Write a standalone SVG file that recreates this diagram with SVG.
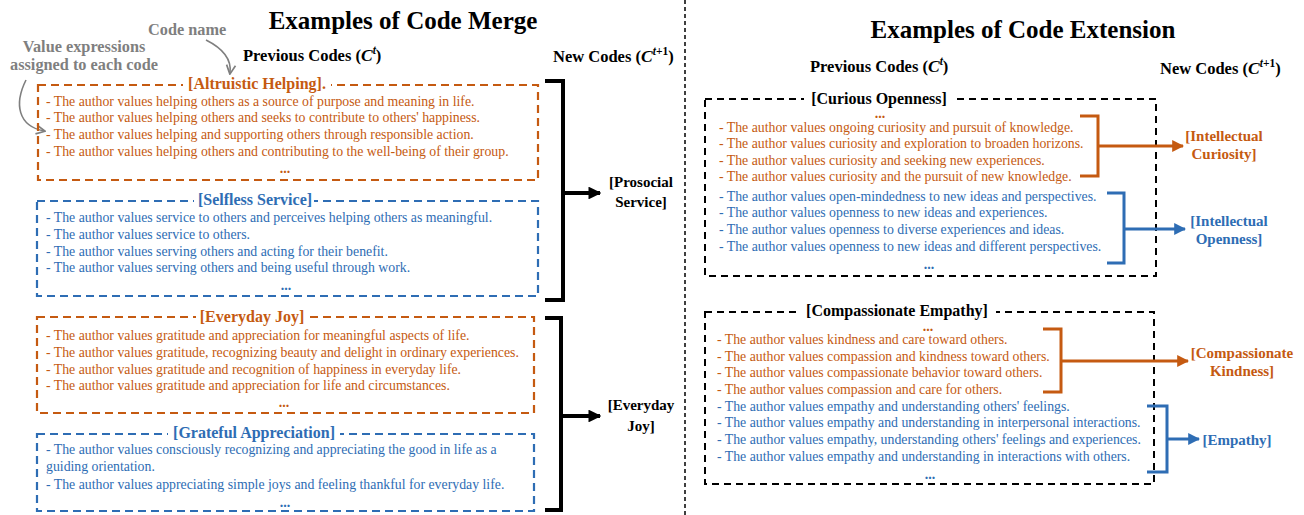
<svg xmlns="http://www.w3.org/2000/svg" width="1304" height="515" viewBox="0 0 1304 515">
<defs>
<style>
.h,.sub,.ann,.ln,.t,.nc,.dots{font-family:"Liberation Serif","Times New Roman",serif;}
.h{font-size:25px;font-weight:bold;fill:#000;text-anchor:middle;}
.sub{font-size:16.5px;font-weight:bold;fill:#000;}
.ann{font-size:16.3px;font-weight:bold;fill:#7f7f7f;}
.o{fill:#C55A11;}
.b{fill:#2E6DB4;}
.ln{font-size:13.8px;}
.t{font-size:16px;font-weight:bold;text-anchor:middle;}
.nc{font-size:15px;font-weight:bold;text-anchor:middle;}
.dots{font-size:14px;font-weight:bold;text-anchor:middle;}
.bo{fill:none;stroke:#C55A11;stroke-width:2.2;stroke-dasharray:8 5;}
.bb{fill:none;stroke:#2E6DB4;stroke-width:2.2;stroke-dasharray:8 5;}
.bk{fill:none;stroke:#000;stroke-width:2;stroke-dasharray:7 5;}
.br{fill:none;stroke:#000;stroke-width:4;}
.bro{fill:none;stroke:#C55A11;stroke-width:3;}
.brb{fill:none;stroke:#2E6DB4;stroke-width:3;}
.wb{fill:#fff;}
</style>
<marker id="ak" viewBox="0 0 10 10" refX="9" refY="5" markerWidth="3.2" markerHeight="3.2" orient="auto"><path d="M0,0 L10,5 L0,10 Z" fill="#000"/></marker>
<marker id="ao" viewBox="0 0 10 10" refX="9" refY="5" markerWidth="4" markerHeight="4" orient="auto"><path d="M0,0 L10,5 L0,10 Z" fill="#C55A11"/></marker>
<marker id="ab" viewBox="0 0 10 10" refX="9" refY="5" markerWidth="4" markerHeight="4" orient="auto"><path d="M0,0 L10,5 L0,10 Z" fill="#2E6DB4"/></marker>
<marker id="ag" viewBox="0 0 10 10" refX="8" refY="5" markerWidth="7" markerHeight="7" orient="auto"><path d="M1,1 L9,5 L1,9" fill="none" stroke="#7f7f7f" stroke-width="1.5"/></marker>
</defs>

<!-- divider -->
<line x1="685" y1="0" x2="685" y2="515" stroke="#000" stroke-width="1.5" stroke-dasharray="4 3"/>

<!-- headings -->
<text class="h" x="403" y="29">Examples of Code Merge</text>
<text class="h" x="1023" y="38">Examples of Code Extension</text>
<text class="sub" x="243" y="61">Previous Codes (<tspan font-style="italic" font-size="17.5">C</tspan><tspan font-size="11.5" dy="-7" font-style="italic">t</tspan><tspan dy="7">)</tspan></text>
<text class="sub" x="553" y="62">New Codes (<tspan font-style="italic" font-size="17.5">C</tspan><tspan font-size="11.5" dy="-7"><tspan font-style="italic">t</tspan>+1</tspan><tspan dy="7">)</tspan></text>
<text class="sub" x="810" y="72">Previous Codes (<tspan font-style="italic" font-size="17.5">C</tspan><tspan font-size="11.5" dy="-7" font-style="italic">t</tspan><tspan dy="7">)</tspan></text>
<text class="sub" x="1160" y="74">New Codes (<tspan font-style="italic" font-size="17.5">C</tspan><tspan font-size="11.5" dy="-7"><tspan font-style="italic">t</tspan>+1</tspan><tspan dy="7">)</tspan></text>

<!-- annotations -->
<g id="annotations">
<text class="ann" x="148" y="35">Code name</text>
<text class="ann" x="84" y="52" text-anchor="middle">Value expressions</text>
<text class="ann" x="84" y="70" text-anchor="middle">assigned to each code</text>
<path d="M206,40 C222,48 232,58 230,73" fill="none" stroke="#7f7f7f" stroke-width="1.6" marker-end="url(#ag)"/>
<path d="M26,80 C14,104 18,126 44,131" fill="none" stroke="#7f7f7f" stroke-width="1.6" marker-end="url(#ag)"/>
</g>

<!-- Left: merge -->
<g id="altruistic-helping">
<rect class="bo" x="38" y="85" width="500" height="95"/>
<rect class="wb" x="183" y="75" width="148" height="18"/>
<text class="t o" x="257" y="89">[Altruistic Helping].</text>
<text class="ln o" x="46" y="106">- The author values helping others as a source of purpose and meaning in life.</text>
<text class="ln o" x="46" y="122">- The author values helping others and seeks to contribute to others' happiness.</text>
<text class="ln o" x="46" y="139">- The author values helping and supporting others through responsible action.</text>
<text class="ln o" x="46" y="156">- The author values helping others and contributing to the well-being of their group.</text>
<text class="dots o" x="285" y="173">...</text>
</g>

<g id="selfless-service">
<rect class="bb" x="37" y="201" width="501" height="95"/>
<rect class="wb" x="194" y="191" width="120" height="18"/>
<text class="t b" x="255" y="205">[Selfless Service]</text>
<text class="ln b" x="46" y="222">- The author values service to others and perceives helping others as meaningful.</text>
<text class="ln b" x="46" y="239">- The author values service to others.</text>
<text class="ln b" x="46" y="256">- The author values serving others and acting for their benefit.</text>
<text class="ln b" x="46" y="272">- The author values serving others and being useful through work.</text>
<text class="dots b" x="286" y="290">...</text>
</g>

<g id="everyday-joy">
<rect class="bo" x="37" y="317" width="497" height="96"/>
<rect class="wb" x="196" y="307" width="112" height="18"/>
<text class="t o" x="252" y="322">[Everyday Joy]</text>
<text class="ln o" x="46" y="340">- The author values gratitude and appreciation for meaningful aspects of life.</text>
<text class="ln o" x="46" y="357">- The author values gratitude, recognizing beauty and delight in ordinary experiences.</text>
<text class="ln o" x="46" y="374">- The author values gratitude and recognition of happiness in everyday life.</text>
<text class="ln o" x="46" y="390">- The author values gratitude and appreciation for life and circumstances.</text>
<text class="dots o" x="284" y="407">...</text>
</g>

<g id="grateful-appreciation">
<rect class="bb" x="37" y="434" width="497" height="77"/>
<rect class="wb" x="168" y="424" width="172" height="18"/>
<text class="t b" x="254" y="438">[Grateful Appreciation]</text>
<text class="ln b" x="46" y="454">- The author values consciously recognizing and appreciating the good in life as a</text>
<text class="ln b" x="46" y="471">guiding orientation.</text>
<text class="ln b" x="46" y="489">- The author values appreciating simple joys and feeling thankful for everyday life.</text>
<text class="dots b" x="285" y="507">...</text>
</g>

<g id="prosocial-service">
<text class="nc" x="641" y="187" fill="#000">[Prosocial</text>
<text class="nc" x="641" y="207" fill="#000">Service]</text>
</g>
<g id="everyday-joy-new">
<text class="nc" x="641" y="410" fill="#000">[Everyday</text>
<text class="nc" x="641" y="431" fill="#000">Joy]</text>
</g>

<!-- Right: extension -->
<g id="curious-openness">
<rect class="bk" x="705" y="99" width="451" height="177"/>
<rect class="wb" x="804" y="89" width="150" height="18"/>
<text class="t" x="879" y="104" fill="#000">[Curious Openness]</text>
<text class="dots o" x="880" y="118">...</text>
<text class="ln o" x="719" y="132">- The author values ongoing curiosity and pursuit of knowledge.</text>
<text class="ln o" x="719" y="148">- The author values curiosity and exploration to broaden horizons.</text>
<text class="ln o" x="719" y="165">- The author values curiosity and seeking new experiences.</text>
<text class="ln o" x="719" y="181">- The author values curiosity and the pursuit of new knowledge.</text>
<text class="ln b" x="719" y="201">- The author values open-mindedness to new ideas and perspectives.</text>
<text class="ln b" x="719" y="217">- The author values openness to new ideas and experiences.</text>
<text class="ln b" x="719" y="234">- The author values openness to diverse experiences and ideas.</text>
<text class="ln b" x="719" y="251">- The author values openness to new ideas and different perspectives.</text>
<text class="dots b" x="929" y="269">...</text>
</g>

<g id="compassionate-empathy">
<rect class="bk" x="705" y="312" width="449" height="172"/>
<rect class="wb" x="800" y="302" width="196" height="18"/>
<text class="t" x="897" y="316" fill="#000">[Compassionate Empathy]</text>
<text class="dots o" x="928" y="331">...</text>
<text class="ln o" x="717" y="344">- The author values kindness and care toward others.</text>
<text class="ln o" x="717" y="361">- The author values compassion and kindness toward others.</text>
<text class="ln o" x="717" y="377">- The author values compassionate behavior toward others.</text>
<text class="ln o" x="717" y="394">- The author values compassion and care for others.</text>
<text class="ln b" x="717" y="411">- The author values empathy and understanding others' feelings.</text>
<text class="ln b" x="717" y="427">- The author values empathy and understanding in interpersonal interactions.</text>
<text class="ln b" x="717" y="444">- The author values empathy, understanding others' feelings and experiences.</text>
<text class="ln b" x="717" y="461">- The author values empathy and understanding in interactions with others.</text>
<text class="dots b" x="930" y="479">...</text>
</g>

<g id="intellectual-curiosity">
<text class="nc o" x="1224" y="141">[Intellectual</text>
<text class="nc o" x="1224" y="159">Curiosity]</text>
</g>
<g id="intellectual-openness">
<text class="nc b" x="1229" y="226">[Intellectual</text>
<text class="nc b" x="1229" y="244">Openness]</text>
</g>
<g id="compassionate-kindness">
<text class="nc o" x="1242" y="358">[Compassionate</text>
<text class="nc o" x="1242" y="376">Kindness]</text>
</g>
<g id="empathy">
<text class="nc b" x="1237" y="445">[Empathy]</text>
</g>

<!-- connectors -->
<g id="connectors">
<path class="br" d="M545,81 H563 V300 H545"/>
<line x1="563" y1="193" x2="600" y2="193" stroke="#000" stroke-width="4" marker-end="url(#ak)"/>
<path class="br" d="M545,318 H561 V510 H545"/>
<line x1="561" y1="416" x2="600" y2="416" stroke="#000" stroke-width="4" marker-end="url(#ak)"/>

<path class="bro" d="M1080,116 H1098 V176 H1080"/>
<line x1="1098" y1="146" x2="1183" y2="146" class="bro" marker-end="url(#ao)"/>
<path class="brb" d="M1107,193 H1124 V263 H1107"/>
<line x1="1124" y1="229" x2="1185" y2="229" class="brb" marker-end="url(#ab)"/>

<path class="bro" d="M1043,329 H1061 V392 H1043"/>
<line x1="1061" y1="361" x2="1188" y2="361" class="bro" marker-end="url(#ao)"/>
<path class="brb" d="M1147,406 H1167 V472 H1147"/>
<line x1="1167" y1="439" x2="1199" y2="439" class="brb" marker-end="url(#ab)"/>
</g>
</svg>
